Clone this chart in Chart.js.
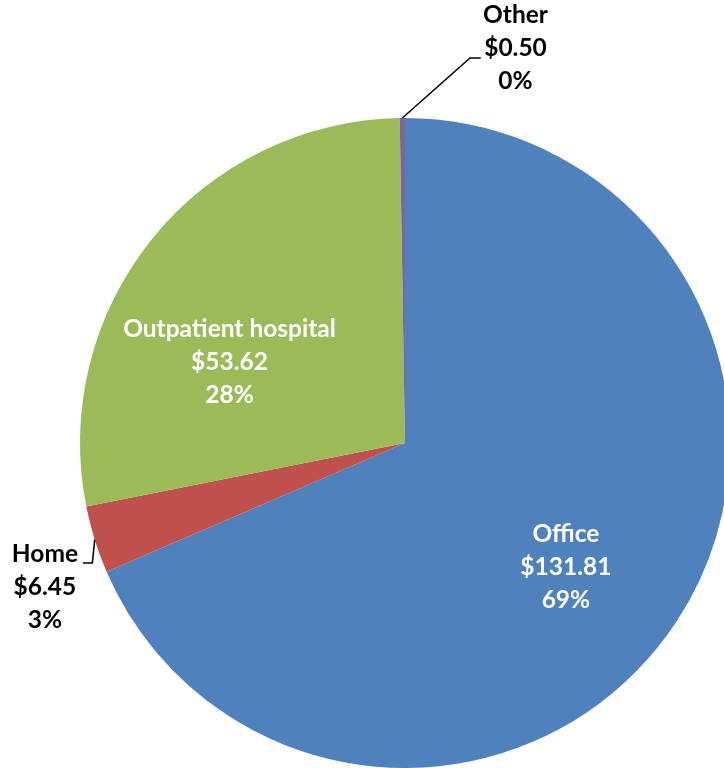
<!DOCTYPE html>
<html><head><meta charset="utf-8">
<script src="https://cdn.jsdelivr.net/npm/chart.js@4/dist/chart.umd.min.js"></script>
<style>html,body{margin:0;padding:0;background:#fff;overflow:hidden;width:724px;height:768px}canvas{display:block}</style>
</head><body>
<canvas id="c" width="730" height="768"></canvas>
<script>
const categories = ["Office", "Home", "Outpatient hospital", "Other"];
const values = [131.81, 6.45, 53.62, 0.50];
const percentLabels = ["69%", "3%", "28%", "0%"];
const colors = ["#4F81BD", "#C0504D", "#9BBB59", "#8064A2"];

// label placement relative to pie center, in radius units; leader line: list of points in radius units
const labelCfg = [
  {dx: 0.495, dy: 0.382, color: "#fff"},
  {dx: -1.108, dy: 0.443, color: "#000", leader: [[-0.962, 0.369],[-0.991, 0.369]]},
  {dx: -0.54, dy: -0.25, color: "#fff"},
  {dx: 0.34, dy: -1.215, color: "#000", leader: [[0.2, -1.185],[0.233, -1.185]]}
];

const labelPlugin = {
  id: 'labels',
  afterDatasetsDraw(chart) {
    const ctx = chart.ctx;
    const meta = chart.getDatasetMeta(0);
    const font = "bold 24.5px Lato, 'Liberation Sans', sans-serif";
    meta.data.forEach((arc, i) => {
      const cx = arc.x, cy = arc.y, r = arc.outerRadius;
      const cfg = labelCfg[i];
      const x = cx + cfg.dx * r, y = cy + cfg.dy * r;
      const lines = [categories[i], "$" + values[i].toFixed(2), percentLabels[i]];
      ctx.save();
      ctx.font = font;
      ctx.fillStyle = cfg.color;
      ctx.textAlign = "center";
      ctx.textBaseline = "middle";
      const lh = 33;
      lines.forEach((t, k) => ctx.fillText(t, x, y + (k - 1) * lh));
      if (cfg.leader) {
        const mid = (arc.startAngle + arc.endAngle) / 2;
        ctx.strokeStyle = "#000";
        ctx.lineWidth = 1.5;
        ctx.beginPath();
        ctx.moveTo(cx + Math.cos(mid) * r, cy + Math.sin(mid) * r);
        cfg.leader.forEach(p => ctx.lineTo(cx + p[0] * r, cy + p[1] * r));
        ctx.stroke();
      }
      ctx.restore();
    });
  }
};

new Chart(document.getElementById('c'), {
  type: 'pie',
  data: {
    labels: categories,
    datasets: [{
      data: values,
      backgroundColor: colors,
      borderWidth: 0
    }]
  },
  options: {
    responsive: false,
    animation: false,
    layout: {padding: {left: 80, right: 0, top: 118, bottom: 0}},
    plugins: {legend: {display: false}, tooltip: {enabled: false}}
  },
  plugins: [labelPlugin]
});
</script>
</body></html>
